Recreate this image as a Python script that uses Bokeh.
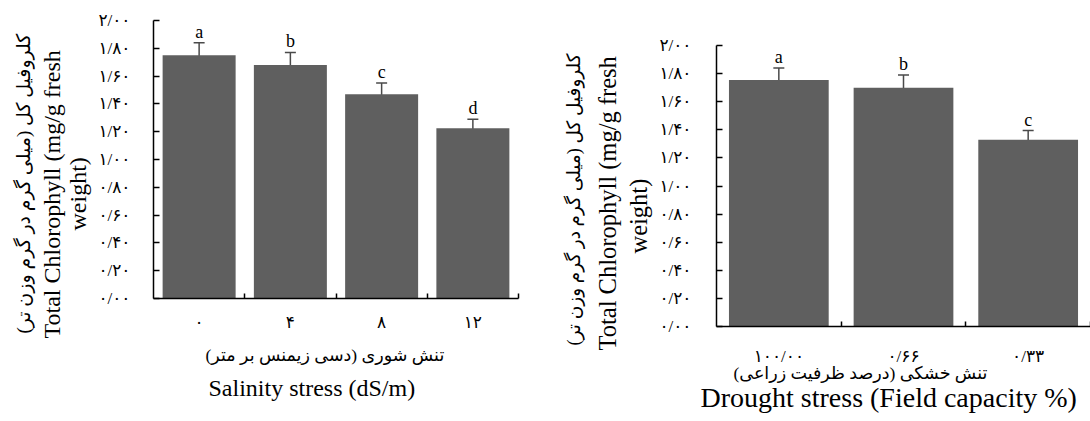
from bokeh.plotting import figure
from bokeh.models import Range1d, FixedTicker, Title, Whisker, ColumnDataSource, TeeHead
from bokeh.layouts import row
from bokeh.embed import file_html
from bokeh.resources import INLINE
from bokeh.core.properties import value

# ---- data ----
sal_labels = ["۰", "۴", "۸", "۱۲"]
sal_means = [1.75, 1.68, 1.47, 1.225]
sal_err = [0.09, 0.09, 0.08, 0.065]
sal_letters = ["a", "b", "c", "d"]

dro_labels = ["۱۰۰/۰۰", "۰/۶۶", "۰/۳۳"]
dro_means = [1.755, 1.70, 1.33]
dro_err = [0.085, 0.09, 0.065]
dro_letters = ["a", "b", "c"]

y_tick_values = [0.0, 0.2, 0.4, 0.6, 0.8, 1.0, 1.2, 1.4, 1.6, 1.8, 2.0]
y_tick_labels = ["۰/۰۰", "۰/۲۰", "۰/۴۰", "۰/۶۰", "۰/۸۰", "۱/۰۰",
                 "۱/۲۰", "۱/۴۰", "۱/۶۰", "۱/۸۰", "۲/۰۰"]

y_title_fa = "\u200fکلروفیل کل (میلی گرم در گرم وزن تر)\u200f"
y_title_en1 = "Total Chlorophyll (mg/g fresh"
y_title_en2 = "weight)"
sal_title_fa = "\u200fتنش شوری (دسی زیمنس بر متر)\u200f"
sal_title_en = "Salinity stress (dS/m)"
dro_title_fa = "\u200fتنش خشکی (درصد ظرفیت زراعی)\u200f"
dro_title_en = "Drought stress (Field capacity %)"

BAR = "#5f5f5f"
ERR = "#4a4a4a"
FONT = "Liberation Serif, DejaVu Sans"


def make_chart(labels, means, errs, letters, width, bl, br, bt, bb,
               tick_fs, letter_fs, x_std, y_std, left_titles, below_titles):
    n = len(labels)
    xs = list(range(n))
    src = ColumnDataSource(dict(
        x=xs, top=means,
        upper=[m + e for m, e in zip(means, errs)],
        lower=[m - e for m, e in zip(means, errs)],
        letter=letters))
    p = figure(width=width, height=421, output_backend="svg", toolbar_location=None,
               title=None,
               x_range=Range1d(-0.5, n - 0.5), y_range=Range1d(0, 2.0),
               min_border_left=bl, min_border_right=br,
               min_border_top=bt, min_border_bottom=bb)
    p.frame_align = False
    p.outline_line_color = None
    p.xgrid.visible = False
    p.ygrid.visible = False
    p.background_fill_color = "white"
    p.border_fill_color = "white"

    p.vbar(x="x", top="top", width=0.8, source=src, fill_color=BAR, line_color=None)
    w = Whisker(source=src, base="x", upper="upper", lower="lower",
                line_color=ERR, line_width=1.5,
                upper_head=TeeHead(size=11, line_color=ERR, line_width=1.5),
                lower_head=TeeHead(size=11, line_color=ERR, line_width=1.5))
    p.add_layout(w)
    p.text(x="x", y="upper", text="letter", source=src, text_align="center",
           text_baseline="bottom", y_offset=-1, text_color="black",
           text_font=value(FONT), text_font_size=letter_fs)

    # x axis
    xa = p.xaxis[0]
    xa.ticker = FixedTicker(ticks=xs, minor_ticks=[i + 0.5 for i in xs])
    xa.major_label_overrides = {i: lab for i, lab in zip(xs, labels)}
    xa.major_tick_line_color = None
    xa.minor_tick_in = 5
    xa.minor_tick_out = 0
    xa.minor_tick_line_color = "black"
    xa.minor_tick_line_width = 1.5
    xa.axis_line_color = "black"
    xa.axis_line_width = 1.5
    xa.major_label_standoff = x_std
    xa.major_label_text_font = FONT
    xa.major_label_text_font_size = tick_fs
    xa.major_label_text_color = "black"

    # y axis
    ya = p.yaxis[0]
    ya.ticker = FixedTicker(ticks=y_tick_values, minor_ticks=[])
    ya.major_label_overrides = {v: lab for v, lab in zip(y_tick_values, y_tick_labels)}
    ya.major_tick_in = 6
    ya.major_tick_out = 0
    ya.major_tick_line_color = "black"
    ya.major_tick_line_width = 1.5
    ya.minor_tick_line_color = None
    ya.axis_line_color = "black"
    ya.axis_line_width = 1.5
    ya.major_label_standoff = y_std
    ya.major_label_text_font = FONT
    ya.major_label_text_font_size = tick_fs
    ya.major_label_text_color = "black"

    # titles stacked outward from the frame
    for (txt, fs, off, std) in left_titles:
        p.add_layout(Title(text=txt, align="left", offset=off, standoff=std,
                           text_font=FONT, text_font_size=fs, text_font_style="normal",
                           text_color="black"), "left")
    for (txt, fs, off, std) in below_titles:
        p.add_layout(Title(text=txt, align="left", offset=off, standoff=std,
                           text_font=FONT, text_font_size=fs, text_font_style="normal",
                           text_color="black"), "below")
    return p


p1 = make_chart(sal_labels, sal_means, sal_err, sal_letters, 545, 153, 27, 20, 123,
                "17px", "18px", 8, 23,
                [(y_title_en2, "24px", 68, 10),
                 (y_title_en1, "24px", -40, -14),
                 (y_title_fa, "19px", -35, 20)],
                [(sal_title_fa, "17.5px", 52, 16),
                 (sal_title_en, "24px", 55, 0)])

p2 = make_chart(dro_labels, dro_means, dro_err, dro_letters, 545, 171, 0, 45, 95,
                "17px", "18px", 14, 25,
                [(y_title_en2, "24.5px", 73, 10),
                 (y_title_en1, "24.5px", -24, -6),
                 (y_title_fa, "18.5px", -19, 22)],
                [(dro_title_fa, "17.5px", 17, -16),
                 (dro_title_en, "28px", -16, 10)])

layout = row(p1, p2)
open("out.html", "w").write(file_html(layout, INLINE))
